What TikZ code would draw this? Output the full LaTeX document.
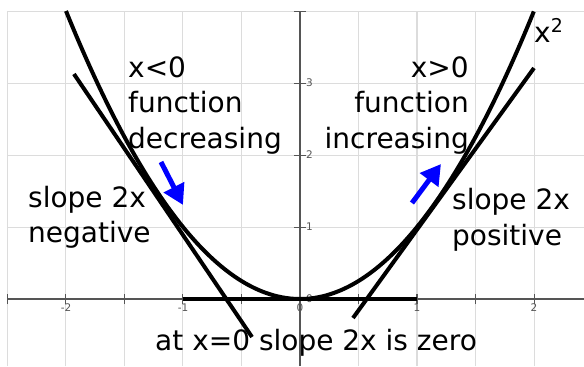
\documentclass[tikz,border=0pt]{standalone}
\usepackage{fontspec}
\setmainfont{DejaVu Sans}
\usetikzlibrary{arrows.meta}
\definecolor{gridgray}{HTML}{DCDCDC}
\definecolor{axisgray}{HTML}{555555}
\definecolor{hintblue}{HTML}{0000FF}
\newcommand{\bigtext}{\fontsize{28}{35.5}\selectfont}
\newcommand{\ticktext}{\fontsize{10.5}{11}\selectfont}

\begin{document}
\begin{tikzpicture}[x=117pt,y=72pt,
  gridline/.style={gridgray,line width=1pt},
  axisline/.style={axisgray,line width=1.5pt},
  curve/.style={black,line width=4pt},
  hint/.style={hintblue,line width=5pt,-{Triangle[length=20pt,width=22pt]}},
  lbl/.style={font=\bigtext,inner sep=0pt,align=left},
  ticklbl/.style={font=\ticktext,text=axisgray,inner sep=1pt}]
  \useasboundingbox (-2.5641,-0.9306) rectangle (2.4274,4.1528);

  % grid and axes
  \draw[gridline] (-2.5,-0.9306) grid[xstep=0.5,ystep=1] (2.4274,4);
  \draw[axisline] (-2.5,0) -- (2.4274,0);
  \draw[axisline] (0,-0.9306) -- (0,4);
  \foreach \x in {-2.5,-2,...,2}
    \draw[axisline,line width=1pt] (\x,0) ++(0,-5pt) -- ++(0,10pt);
  \foreach \y in {1,2,3,4}
    \draw[axisline,line width=1pt] (0,\y) ++(-6pt,0) -- ++(12pt,0);
  \foreach \x in {-2,-1,0,1,2}
    \node[ticklbl,below=4pt] (xtick\x) at (\x,0) {\x};
  \foreach \y in {0,1,2,3}
    \node[ticklbl,right=5pt] (ytick\y) at (0,\y) {\y};

  % the function and three tangents
  \draw[curve] plot[domain=-2:2,samples=120,smooth] (\x,{\x*\x});
  \coordinate (tanL1) at (-1.932,3.125);
  \coordinate (tanL2) at (-0.410,-0.528);
  \coordinate (tanR1) at (0.453,-0.264);
  \coordinate (tanR2) at (2.0,3.208);
  \coordinate (tanZ1) at (-1,0);
  \coordinate (tanZ2) at (1,0);
  \draw[curve] (tanL1) -- (tanL2);
  \draw[curve] (tanR1) -- (tanR2);
  \draw[curve] (tanZ1) -- (tanZ2);

  % direction hints
  \coordinate (decTail) at (-1.188,1.903);
  \coordinate (decTip) at (-1.0,1.306);
  \coordinate (incTail) at (0.957,1.333);
  \coordinate (incTip) at (1.205,1.875);
  \draw[hint] (decTail) -- (decTip);
  \draw[hint] (incTail) -- (incTip);

  % labels (base = last line)
  \node[lbl,anchor=base west] (decr) at (-1.470,2.097) {x<0\\function\\decreasing};
  \node[lbl,anchor=base east,align=right] (incr) at (1.444,2.097) {x>0\\function\\increasing};
  \node[lbl,anchor=base west] (fname) at (2.0,3.556) {x\raisebox{10pt}{\fontsize{19}{19}\selectfont 2}};
  \node[lbl,anchor=base west] (negslope) at (-2.325,0.778) {slope 2x\\negative};
  \node[lbl,anchor=base west] (posslope) at (1.299,0.750) {slope 2x\\positive};
  \node[lbl,anchor=base west] (zeroslope) at (-1.239,-0.722) {at x=0 slope 2x is zero};
\end{tikzpicture}
\end{document}
